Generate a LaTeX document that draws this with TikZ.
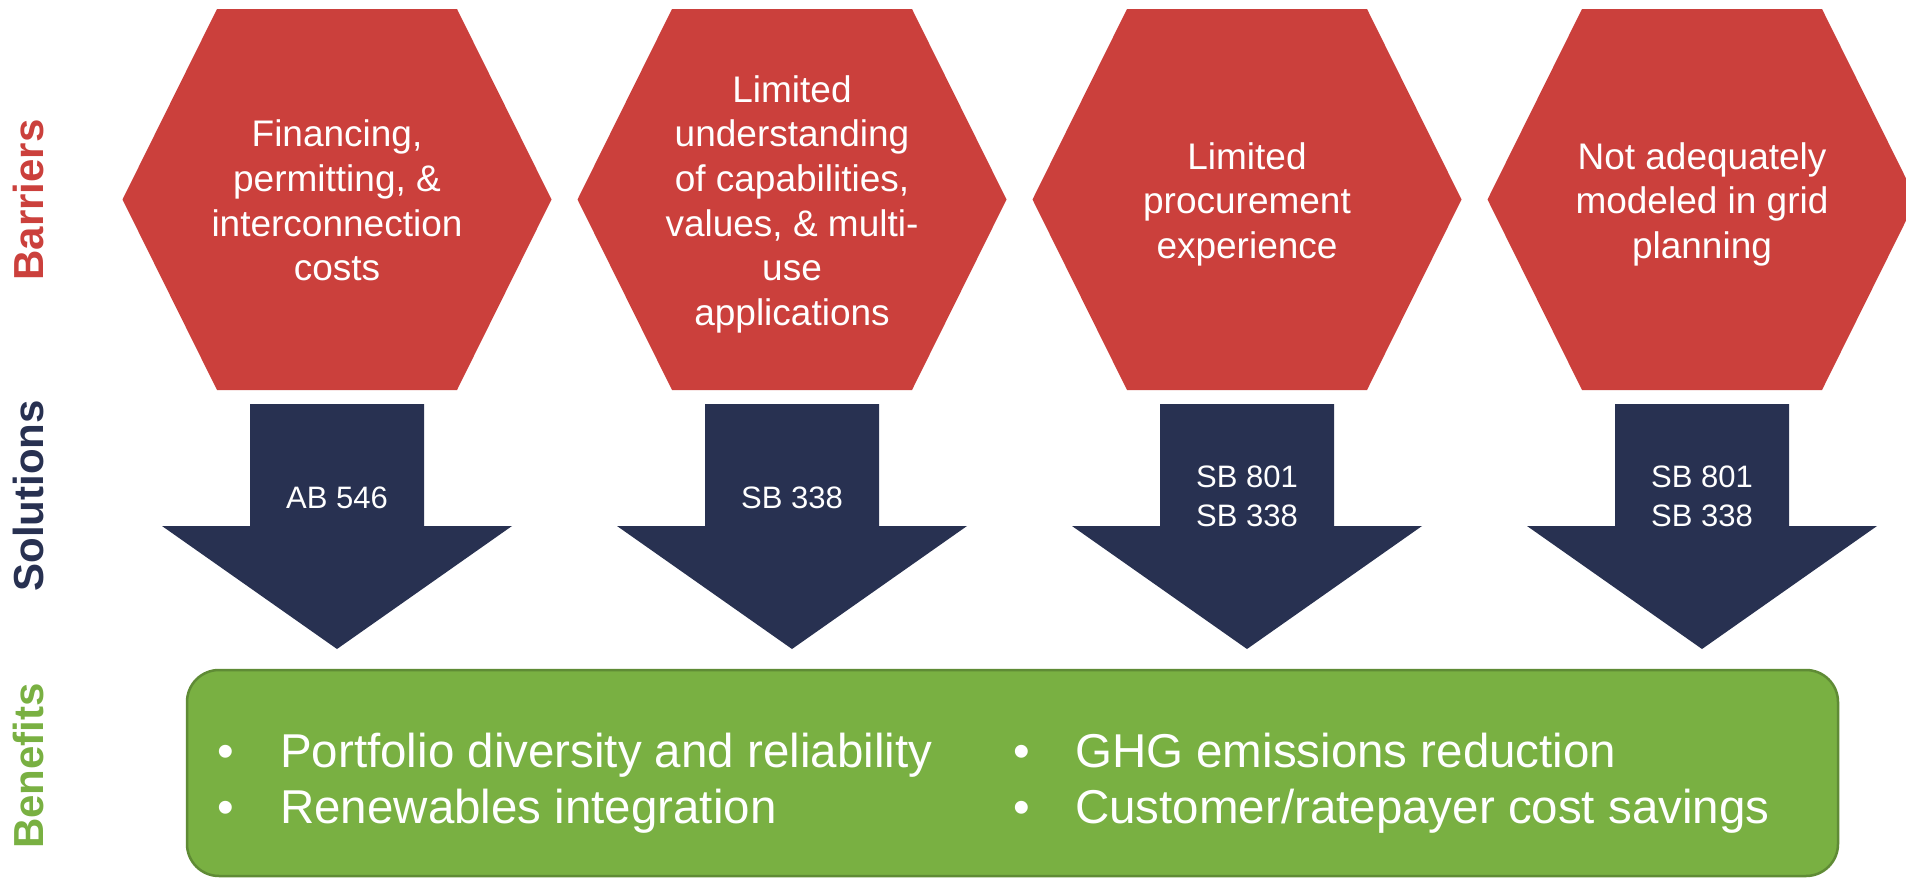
\documentclass[tikz,border=0pt]{standalone}
\usepackage{fontspec}
\setmainfont{Liberation Sans}
\definecolor{barred}{HTML}{CB403C}
\definecolor{solnavy}{HTML}{283151}
\definecolor{bengreen}{HTML}{79B042}
\definecolor{benedge}{HTML}{5F8B35}
\begin{document}
\begin{tikzpicture}[x=1pt,y=-1pt,
  hexfill/.style={fill=barred},
  arrowfill/.style={fill=solnavy},
  hextext/.style={text=white, align=center, inner sep=0pt, anchor=north, font=\fontsize{37}{44.6}\selectfont},
  soltext/.style={text=white, align=center, inner sep=0pt, anchor=north, font=\fontsize{31}{39}\selectfont},
  rowlabel/.style={rotate=90, anchor=base, inner sep=0pt, font=\fontsize{42}{50}\selectfont\bfseries},
  benbox/.style={draw=benedge, fill=bengreen, line width=2.5pt, rounded corners=32pt, inner sep=0pt},
  bentext/.style={text=white, inner sep=0pt, anchor=base west, font=\fontsize{47.5}{56}\selectfont},
  benbullet/.style={text=white, inner sep=0pt, anchor=base, font=\fontsize{47.5}{56}\selectfont},
]
\useasboundingbox (0,0) rectangle (1906,878);
\fill[white] (0,0) rectangle (1906,878);
\begin{scope}
\clip (0,0) rectangle (1906,878);
\foreach \cx in {337,792,1247,1702}{
  \fill[hexfill] ({\cx-120},9) -- ({\cx+120},9) -- ({\cx+214.5},199.5) -- ({\cx+120},390) -- ({\cx-120},390) -- ({\cx-214.5},199.5) -- cycle;
  \fill[arrowfill] ({\cx-87},404) -- ({\cx+87},404) -- ({\cx+87},526) -- ({\cx+175},526) -- (\cx,649) -- ({\cx-175},526) -- ({\cx-87},526) -- cycle;
}
\end{scope}
% barriers
\node[hextext] (b1) at (337,119.85) {Financing,\\permitting, \&\\interconnection\\costs};
\node[hextext] (b2) at (792,75.25) {Limited\\understanding\\of capabilities,\\values, \& multi-\\use\\applications};
\node[hextext] (b3) at (1247,142.15) {Limited\\procurement\\experience};
\node[hextext] (b4) at (1702,142.15) {Not adequately\\modeled in grid\\planning};
% solutions
\node[soltext] (s1) at (337,486.5) {AB 546};
\node[soltext] (s2) at (792,486.5) {SB 338};
\node[soltext] (s3) at (1247,466) {SB 801\\SB 338};
\node[soltext] (s4) at (1702,466) {SB 801\\SB 338};
% benefits
\node[benbox, minimum width=1651pt, minimum height=206pt] (ben) at (1012.5,773) {};
\node[benbullet] (p1) at (226,767) {•};
\node[bentext] (t1) at (280,767) {Portfolio diversity and reliability};
\node[benbullet] (p2) at (226,823) {•};
\node[bentext] (t2) at (280,823) {Renewables integration};
\node[benbullet] (p3) at (1022,767) {•};
\node[bentext] (t3) at (1075,767) {GHG emissions reduction};
\node[benbullet] (p4) at (1022,823) {•};
\node[bentext] (t4) at (1075,823) {Customer/ratepayer cost savings};
% row labels
\node[rowlabel, text=barred] (lb) at (43,200) {Barriers};
\node[rowlabel, text=solnavy] (ls) at (43,496) {Solutions};
\node[rowlabel, text=bengreen] (lg) at (43,766) {Benefits};
\end{tikzpicture}
\end{document}
